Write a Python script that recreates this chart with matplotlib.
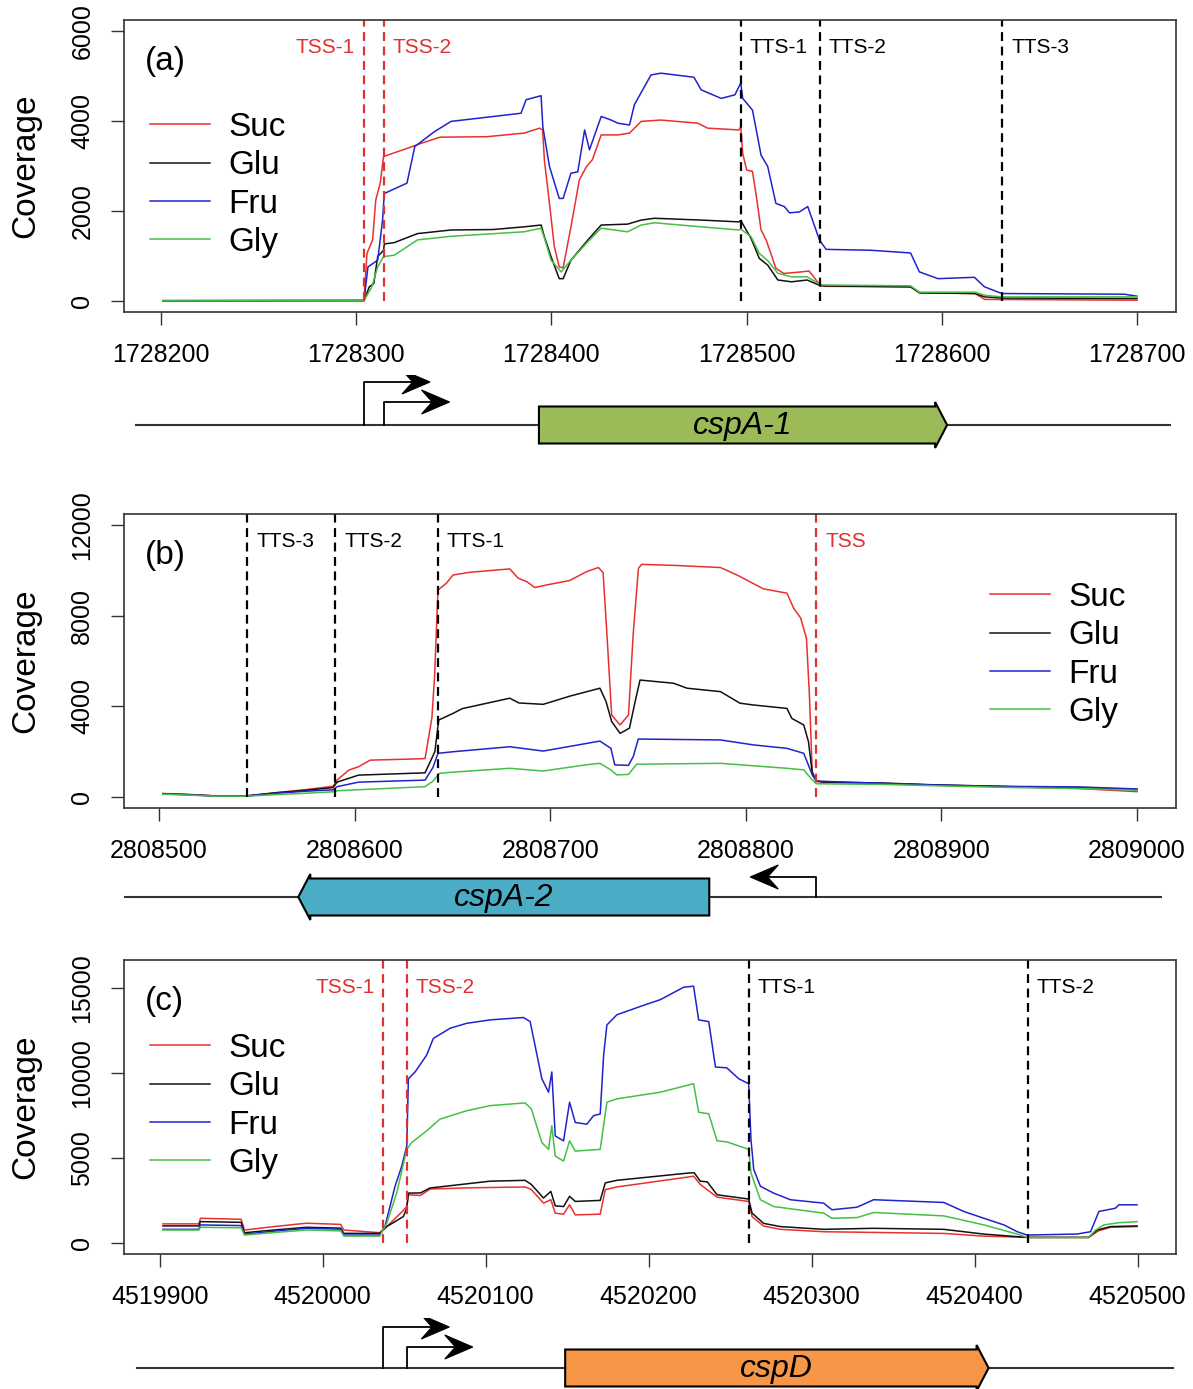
import matplotlib
matplotlib.use("Agg")
import matplotlib.pyplot as plt
from matplotlib.patches import Polygon

plt.rcParams['font.family'] = ['Liberation Sans', 'DejaVu Sans']

SAMPLES = ('Suc', 'Glu', 'Fru', 'Gly')
COLORS = ('#E8302E', '#111111', '#2222CC', '#44C044')
DASH_RED = '#E03030'

# ---------------- panel (a) : cspA-1 ----------------
A_SUC = [(1728201, 15), (1728304, 20), (1728305.5, 1060), (1728308.4, 1360), (1728310, 2240),
         (1728312.3, 2620), (1728314, 3210), (1728316, 3240), (1728326, 3390), (1728333, 3500),
         (1728343, 3640), (1728367, 3650), (1728386, 3730), (1728394, 3840), (1728395.5, 3800),
         (1728396.4, 3130), (1728399, 2170), (1728401.5, 1210), (1728404, 760), (1728406, 740),
         (1728410, 1650), (1728414.3, 2690), (1728418, 2990), (1728421, 3140), (1728425.5, 3690),
         (1728434, 3690), (1728440, 3730), (1728446, 3990), (1728456, 4020), (1728475, 3950),
         (1728480, 3840), (1728496, 3800), (1728497, 3870), (1728498, 3280), (1728500, 2910),
         (1728503, 2880), (1728505, 2320), (1728507.4, 1580), (1728510, 1360), (1728515, 730),
         (1728519, 615), (1728528, 650), (1728532, 670), (1728537, 390), (1728540, 330),
         (1728584, 318), (1728589, 185), (1728617, 170), (1728622, 40), (1728700, 22)]
A_GLU = [(1728201, 10), (1728304, 15), (1728306.7, 320), (1728309, 390), (1728311, 990),
         (1728314, 1130), (1728314.4, 1270), (1728319.5, 1300), (1728331.4, 1500), (1728348.6, 1580),
         (1728370, 1590), (1728386, 1650), (1728394.7, 1690), (1728396.4, 1430), (1728399.8, 990),
         (1728404, 500), (1728406, 500), (1728410, 910), (1728418.7, 1360), (1728425.5, 1690),
         (1728439, 1710), (1728446, 1800), (1728452.8, 1840), (1728476.7, 1800), (1728496, 1760),
         (1728497, 1790), (1728502.3, 1390), (1728506.5, 950), (1728510.8, 800), (1728516, 470),
         (1728523, 430), (1728531, 470), (1728538, 340), (1728584, 318), (1728588.5, 185),
         (1728617, 170), (1728622, 96), (1728631, 70), (1728700, 59)]
A_FRU = [(1728201, 5), (1728304, 10), (1728306, 760), (1728311, 910), (1728313.5, 1800),
         (1728314.4, 2390), (1728326, 2620), (1728330, 3430), (1728340, 3760), (1728348.6, 3990),
         (1728384.4, 4170), (1728387, 4470), (1728394.7, 4560), (1728395.6, 3870), (1728399, 2990),
         (1728404, 2280), (1728406, 2280), (1728410, 2840), (1728413.5, 2870), (1728417, 3800),
         (1728419.5, 3360), (1728425.5, 4100), (1728430.6, 4020), (1728434, 3950), (1728440, 3910),
         (1728442.5, 4360), (1728451, 5020), (1728456, 5060), (1728473, 4970), (1728476.7, 4690),
         (1728487, 4500), (1728494, 4580), (1728497, 4840), (1728498, 4500), (1728503, 4240),
         (1728507.4, 3240), (1728510.8, 2990), (1728515, 2170), (1728519.3, 2100), (1728522, 1960),
         (1728527, 1980), (1728531.3, 2100), (1728537.3, 1360), (1728540.7, 1150), (1728563.7, 1130),
         (1728584, 1070), (1728588.5, 650), (1728598, 500), (1728616.7, 530), (1728621.8, 320),
         (1728630.7, 170), (1728693.5, 155), (1728700, 110)]
A_GLY = [(1728201, 8), (1728304, 12), (1728308, 320), (1728311, 760), (1728314, 990),
         (1728319.5, 1020), (1728331.4, 1360), (1728348.6, 1440), (1728386, 1540), (1728394.7, 1620),
         (1728396.4, 1400), (1728399.8, 910), (1728405, 650), (1728410, 910), (1728418.7, 1320),
         (1728425.5, 1620), (1728439, 1540), (1728446, 1690), (1728452.8, 1740), (1728476.7, 1650),
         (1728496, 1580), (1728497, 1600), (1728502.3, 1430), (1728506.5, 1060), (1728510.8, 900),
         (1728516, 620), (1728523, 540), (1728531, 540), (1728538, 360), (1728584, 340),
         (1728588.5, 200), (1728617, 200), (1728622, 130), (1728631, 95), (1728700, 96)]
A_SITES = [('TSS-1', 1728304, 'tss', 'right'), ('TSS-2', 1728314, 'tss', 'left'),
           ('TTS-1', 1728497, 'tts', 'left'), ('TTS-2', 1728537.5, 'tts', 'left'),
           ('TTS-3', 1728631, 'tts', 'left')]
A_XTICKS = [1728200, 1728300, 1728400, 1728500, 1728600, 1728700]
A_YTICKS = [0, 2000, 4000, 6000]
A_YMAX = 6000
A_GENE = ('cspA-1', 1728393.6, 1728602.7, 1)
A_TRACK = (1728187, 1728717)
A_PROM = [1728304, 1728314]

# ---------------- panel (b) : cspA-2 ----------------
B_SUC = [(2808502, 160), (2808515, 120), (2808528, 60), (2808545, 60), (2808560, 200),
         (2808575, 330), (2808589, 480), (2808591, 750), (2808597, 1190), (2808602, 1340),
         (2808608, 1630), (2808630, 1680), (2808636, 1700), (2808639.5, 3500), (2808640.9, 5380),
         (2808642.6, 9130), (2808646.9, 9430), (2808650.3, 9790), (2808658.8, 9910), (2808679.3, 10060),
         (2808683.6, 9650), (2808688, 9500), (2808692.1, 9240), (2808698, 9350), (2808710, 9550),
         (2808718.6, 9940), (2808724.6, 10120), (2808727, 9900), (2808728.8, 7440), (2808731.4, 3620),
         (2808735.7, 3180), (2808740, 3620), (2808742.5, 7300), (2808745.1, 10090), (2808746.8, 10260),
         (2808764.7, 10210), (2808787, 10120), (2808795.5, 9790), (2808809, 9180), (2808821, 8990),
         (2808824.5, 8320), (2808828, 7900), (2808831, 7000), (2808832.5, 4500), (2808834, 980),
         (2808836, 710), (2808840, 650), (2808870, 600), (2808897, 530), (2808937, 450),
         (2808970, 380), (2809000, 240)]
B_GLU = [(2808502, 150), (2808515, 110), (2808528, 55), (2808545, 55), (2808560, 190),
         (2808575, 300), (2808589, 420), (2808591, 660), (2808602, 970), (2808636, 1070),
         (2808641, 2000), (2808643, 3400), (2808650.3, 3690), (2808655, 3900), (2808679.3, 4360),
         (2808684, 4150), (2808696.4, 4090), (2808710, 4450), (2808725.4, 4800), (2808728.5, 4220),
         (2808731.4, 3330), (2808735.7, 2810), (2808740.5, 3040), (2808743.4, 4210), (2808745.9, 5160),
         (2808763, 5020), (2808770, 4800), (2808787, 4650), (2808797, 4140), (2808804, 4060),
         (2808821, 3910), (2808823.5, 3470), (2808829.6, 3180), (2808832, 2450), (2808833.9, 1120),
         (2808836, 700), (2808840, 660), (2808870, 620), (2808897, 540), (2808937, 460),
         (2808970, 420), (2809000, 340)]
B_FRU = [(2808502, 140), (2808515, 100), (2808528, 50), (2808545, 50), (2808560, 170),
         (2808575, 260), (2808589, 320), (2808591, 460), (2808602, 660), (2808636, 750),
         (2808640, 1300), (2808642.6, 1930), (2808650.3, 2000), (2808679.3, 2220), (2808696.4, 2030),
         (2808725.4, 2470), (2808731, 2150), (2808733, 1420), (2808740, 1400), (2808742.5, 1800),
         (2808745, 2560), (2808787, 2520), (2808804, 2300), (2808821, 2150), (2808829.6, 1930),
         (2808833.9, 1000), (2808836, 710), (2808845, 680), (2808870, 610), (2808897, 530),
         (2808937, 470), (2808970, 450), (2809000, 360)]
B_GLY = [(2808502, 130), (2808515, 90), (2808528, 45), (2808545, 45), (2808560, 110),
         (2808575, 170), (2808589, 235), (2808591, 280), (2808636, 460), (2808640, 700),
         (2808643.4, 1050), (2808650.3, 1100), (2808679.3, 1270), (2808696.4, 1150), (2808718, 1420),
         (2808725.4, 1490), (2808731, 1200), (2808734, 980), (2808740, 1000), (2808744.2, 1450),
         (2808787, 1490), (2808821, 1270), (2808829.6, 1200), (2808834, 750), (2808836, 590),
         (2808845, 580), (2808870, 560), (2808897, 500), (2808937, 420), (2808970, 380),
         (2809000, 300)]
B_SITES = [('TTS-3', 2808545, 'tts', 'left'), ('TTS-2', 2808590, 'tts', 'left'),
           ('TTS-1', 2808642.5, 'tts', 'left'), ('TSS', 2808836, 'tss', 'left')]
B_XTICKS = [2808500, 2808600, 2808700, 2808800, 2808900, 2809000]
B_YTICKS = [0, 4000, 8000, 12000]
B_YMAX = 12000
B_GENE = ('cspA-2', 2808571.2, 2808781.3, -1)
B_TRACK = (2808482, 2809012)
B_PROM = [2808836]

# ---------------- panel (c) : cspD ----------------
C_SUC = [(4519902, 1130), (4519924, 1130), (4519925, 1460), (4519950, 1400), (4519952, 770),
         (4519970, 970), (4519990, 1170), (4520011, 1100), (4520013, 770), (4520035, 612),
         (4520039.3, 970), (4520049.5, 1920), (4520051.6, 2150), (4520052.6, 2840), (4520060, 2800),
         (4520065.9, 3180), (4520090, 3250), (4520124.2, 3300), (4520128, 3150), (4520135.5, 2350),
         (4520140, 2550), (4520142.7, 1760), (4520147.8, 1700), (4520151.5, 2250), (4520155, 1660),
         (4520170.3, 1700), (4520173.4, 3140), (4520180.5, 3300), (4520227.6, 3930), (4520231.7, 3450),
         (4520242, 2700), (4520261.4, 2450), (4520263.5, 1550), (4520270.6, 1000), (4520280.9, 810),
         (4520307.4, 670), (4520381.1, 570), (4520405.7, 410), (4520432.3, 335), (4520470, 335),
         (4520476, 720), (4520483.4, 930), (4520499.7, 970)]
C_GLU = [(4519902, 1010), (4519924, 1010), (4519925, 1265), (4519950, 1220), (4519952, 610),
         (4519970, 770), (4519990, 930), (4520011, 880), (4520013, 573), (4520035, 572),
         (4520039.3, 970), (4520049.5, 1560), (4520051.6, 2050), (4520052.6, 2940), (4520060, 2950),
         (4520065.9, 3240), (4520102.7, 3640), (4520124.2, 3690), (4520128, 3450), (4520135.5, 2650),
         (4520140, 3040), (4520142.7, 2190), (4520147.8, 2150), (4520151.5, 2750), (4520155, 2450),
         (4520170.3, 2510), (4520173.4, 3540), (4520180.5, 3690), (4520225.6, 4130), (4520228, 4130),
         (4520231.7, 3640), (4520236, 3600), (4520242, 2840), (4520261.4, 2590), (4520263.5, 1760),
         (4520270.6, 1160), (4520280.9, 970), (4520307.4, 810), (4520338.1, 870), (4520381.1, 810),
         (4520405.7, 530), (4520432.3, 335), (4520470, 335), (4520475.3, 770), (4520483.4, 970),
         (4520499.7, 1010)]
C_FRU = [(4519902, 810), (4519924, 810), (4519925, 1070), (4519950, 1030), (4519952, 534),
         (4519970, 700), (4519990, 870), (4520011, 820), (4520013, 474), (4520035, 474),
         (4520038.2, 970), (4520044.4, 3340), (4520048.5, 4520), (4520051.6, 5710), (4520052.6, 9660),
         (4520056.7, 10060), (4520063.8, 11050), (4520067.9, 12030), (4520078.2, 12630), (4520088.4, 12920),
         (4520102.7, 13120), (4520123.2, 13260), (4520127.3, 13020), (4520134.5, 9660), (4520138.6, 8870),
         (4520140.6, 10060), (4520142.7, 6300), (4520147.8, 6010), (4520151.5, 8280), (4520155, 7090),
         (4520162.1, 6990), (4520166.2, 7490), (4520170.3, 7590), (4520172.4, 11050), (4520174.4, 12820),
         (4520180.5, 13420), (4520194.9, 13910), (4520207.2, 14310), (4520221.5, 15040), (4520227.6, 15100),
         (4520230.7, 13120), (4520236.9, 13020), (4520241, 10350), (4520248, 10300), (4520255.3, 9660),
         (4520261.4, 9370), (4520262.8, 6100), (4520264.5, 4330), (4520268.6, 3340), (4520276.7, 2940),
         (4520287, 2550), (4520307.4, 2350), (4520312.5, 1960), (4520327.9, 2110), (4520338.1, 2550),
         (4520381.1, 2390), (4520393.4, 1860), (4520405.7, 1460), (4520418, 1070), (4520426.2, 670),
         (4520432.3, 474), (4520463, 533), (4520471.2, 670), (4520476.3, 1860), (4520486.4, 2050),
         (4520488.6, 2250), (4520499.7, 2250)]
C_GLY = [(4519902, 770), (4519924, 770), (4519925, 930), (4519950, 900), (4519952, 474),
         (4519970, 620), (4519990, 770), (4520011, 720), (4520013, 415), (4520035, 414),
         (4520039.3, 1160), (4520045.4, 2940), (4520051.6, 5510), (4520054.6, 5910), (4520063.8, 6600),
         (4520072, 7290), (4520088.4, 7780), (4520102.7, 8080), (4520124.2, 8240), (4520128, 7900),
         (4520134.5, 5910), (4520138.6, 5510), (4520140.6, 6900), (4520142.7, 5120), (4520147.8, 4820),
         (4520151.5, 6010), (4520155, 5410), (4520170.3, 5510), (4520174.4, 8280), (4520180.5, 8480),
         (4520207.2, 8870), (4520227.6, 9370), (4520230.7, 7690), (4520236.9, 7600), (4520242, 6010),
         (4520248, 5950), (4520261.4, 5510), (4520262.8, 4130), (4520268.6, 2550), (4520276.7, 2150),
         (4520307.4, 1760), (4520312.5, 1460), (4520327.9, 1500), (4520338.1, 1800), (4520381.1, 1600),
         (4520405.7, 1070), (4520426.2, 530), (4520432.3, 335), (4520470, 335), (4520474.3, 770),
         (4520479.4, 1070), (4520488.6, 1200), (4520499.7, 1260)]
C_SITES = [('TSS-1', 4520037.2, 'tss', 'right'), ('TSS-2', 4520051.6, 'tss', 'left'),
           ('TTS-1', 4520261.4, 'tts', 'left'), ('TTS-2', 4520432.5, 'tts', 'left')]
C_XTICKS = [4519900, 4520000, 4520100, 4520200, 4520300, 4520400, 4520500]
C_YTICKS = [0, 5000, 10000, 15000]
C_YMAX = 16000
C_GENE = ('cspD', 4520148.8, 4520408.6, 1)
C_TRACK = (4519886, 4520521.6)
C_PROM = [4520037.2, 4520051.6]

W, H = 1193, 1389
AX_LEFT, AX_RIGHT = 124, 1176
GENE_FILL = {'cspA-1': '#9BBB59', 'cspA-2': '#4BACC6', 'cspD': '#F79646'}


def fig_rect(top, bottom):
    return [AX_LEFT / W, 1 - bottom / H, (AX_RIGHT - AX_LEFT) / W, (bottom - top) / H]


def coverage(fig, top, bottom, series, sites, xticks, yticks, ymax, tag, leg_xy):
    ax = fig.add_axes(fig_rect(top, bottom))
    xs = [p[0] for s in series for p in s]
    lo, hi = min(xs), max(xs)
    pad = 0.04 * (hi - lo)
    for s, name, col in zip(series, SAMPLES, COLORS):
        ax.plot([p[0] for p in s], [p[1] for p in s], color=col, lw=1.1, label=name)
    ax.set_xlim(lo - pad, hi + pad)
    ax.set_ylim(-0.04 * ymax, 1.04 * ymax)

    for name, pos, kind, side in sites:
        col = DASH_RED if kind == 'tss' else 'black'
        ax.vlines(pos, 0, 1.04 * ymax, colors=col, linestyles=(0, (4, 2.5)), lw=1.6)
        off = 6.5 if side == 'left' else -6.5
        ax.annotate(name, xy=(pos, 0.907), xycoords=('data', 'axes fraction'),
                    xytext=(off, 0), textcoords='offset points', ha=side, va='center',
                    fontsize=15, color=col)

    ax.set_xticks(xticks)
    ax.set_xticklabels([str(t) for t in xticks])
    ax.set_yticks(yticks)
    ax.set_yticklabels([str(t) for t in yticks])
    ax.tick_params(axis='both', length=9.4, width=1.0, color='#333333', labelsize=18)
    ax.tick_params(axis='x', pad=13)
    ax.tick_params(axis='y', pad=12, labelrotation=90)
    for lab in ax.get_yticklabels():
        lab.set_va('center')
    for sp in ax.spines.values():
        sp.set_color('#333333')
        sp.set_linewidth(1.2)

    ax.set_ylabel('Coverage', fontsize=24)
    ax.yaxis.set_label_coords(-0.079, 0.5)
    ax.text(0.02, 0.858, tag, transform=ax.transAxes, fontsize=24, ha='left', va='center')
    ax.legend(loc='upper left', bbox_to_anchor=leg_xy, frameon=False, fontsize=24,
              handlelength=1.8, handletextpad=0.55, labelspacing=0.22,
              borderpad=0, borderaxespad=0)
    return ax


def gene_track(fig, cov_ax, base_y, gene, track, proms, prom_heights):
    ax = fig.add_axes([AX_LEFT / W, 1 - (base_y + 50) / H, (AX_RIGHT - AX_LEFT) / W, 100 / H])
    ax.set_xlim(cov_ax.get_xlim())
    ax.set_ylim(-50, 50)
    ax.axis('off')
    x0, x1 = ax.get_xlim()
    unit = (x1 - x0) / (AX_RIGHT - AX_LEFT)   # data units per pixel

    ax.plot(track, [0, 0], color='#333333', lw=1.5, zorder=1)

    name, start, end, strand = gene
    head = 12 * unit
    h, hh = 18.5, 23
    if strand > 0:
        pts = [(start, -h), (end - head, -h), (end - head, -hh), (end, 0),
               (end - head, hh), (end - head, h), (start, h)]
    else:
        pts = [(end, -h), (start + head, -h), (start + head, -hh), (start, 0),
               (start + head, hh), (start + head, h), (end, h)]
    ax.add_patch(Polygon(pts, closed=True, facecolor=GENE_FILL[name], edgecolor='black',
                         lw=1.5, zorder=2))
    ax.text((start + end) / 2, -1, name, style='italic', fontsize=23, ha='center', va='center',
            zorder=3)

    # bent promoter arrows with a stealth-shaped head
    hl, hw = 28 * unit, 12
    for pos, ph in zip(proms, prom_heights):
        tip = pos + strand * 66 * unit
        back = tip - strand * hl
        notch = tip - strand * 0.62 * hl
        ax.plot([pos, pos, notch], [0, ph, ph], color='black', lw=1.3, zorder=3)
        ax.add_patch(Polygon([(tip, ph), (back, ph + hw), (notch, ph), (back, ph - hw)],
                             closed=True, facecolor='black', edgecolor='black', lw=0.8,
                             zorder=3))


fig = plt.figure(figsize=(W / 100, H / 100), dpi=100)

ax_a = coverage(fig, 20, 312, [A_SUC, A_GLU, A_FRU, A_GLY], A_SITES, A_XTICKS, A_YTICKS,
                A_YMAX, '(a)', (0.0247, 0.685))
gene_track(fig, ax_a, 425, A_GENE, A_TRACK, A_PROM, [43, 23])

ax_b = coverage(fig, 514, 808, [B_SUC, B_GLU, B_FRU, B_GLY], B_SITES, B_XTICKS, B_YTICKS,
                B_YMAX, '(b)', (0.823, 0.769))
gene_track(fig, ax_b, 897, B_GENE, B_TRACK, B_PROM, [20])

ax_c = coverage(fig, 960, 1254, [C_SUC, C_GLU, C_FRU, C_GLY], C_SITES, C_XTICKS, C_YTICKS,
                C_YMAX, '(c)', (0.0247, 0.752))
gene_track(fig, ax_c, 1368, C_GENE, C_TRACK, C_PROM, [41, 21])

fig.savefig('out.png', dpi=100)
